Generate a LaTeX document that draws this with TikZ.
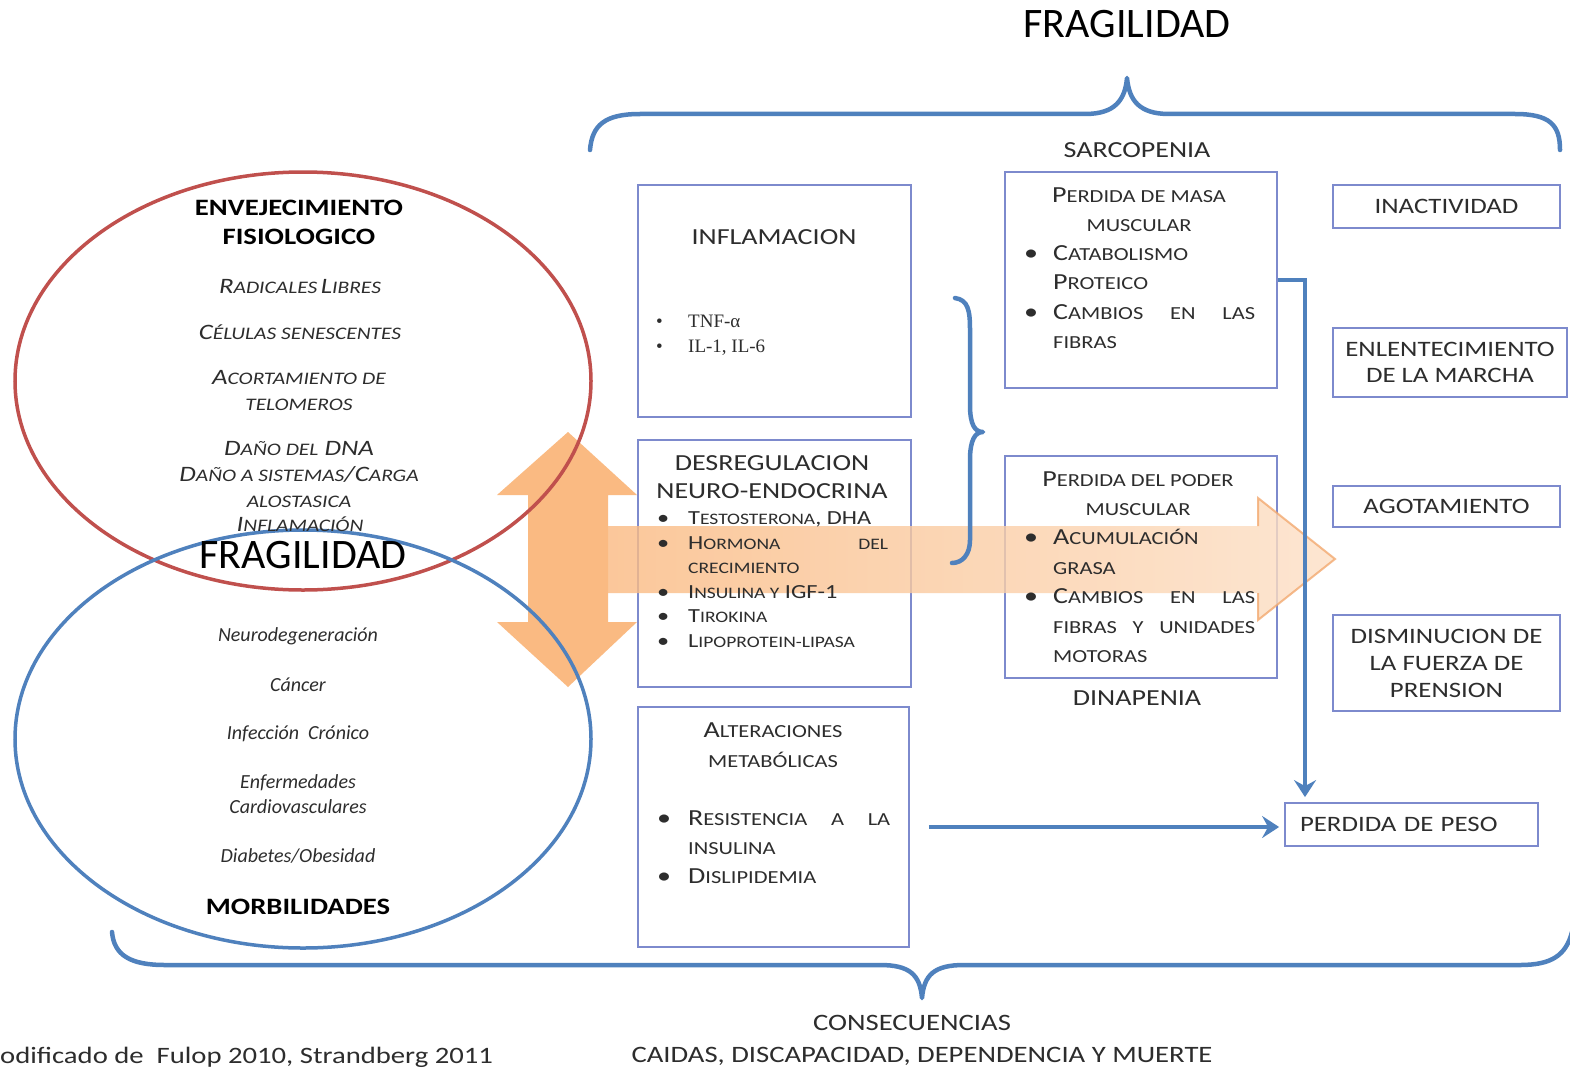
\documentclass[tikz,border=0pt]{standalone}
\usepackage{graphicx}
\usepackage{fontspec}
\setmainfont{Carlito}
\newfontfamily\wf{Carlito}[FakeStretch=1.22]
\newfontfamily\serf{Liberation Serif}
\usetikzlibrary{arrows.meta}
\definecolor{boxblue}{RGB}{125,138,205}
\definecolor{offblue}{RGB}{79,129,189}
\definecolor{offred}{RGB}{192,80,77}
\definecolor{orng}{RGB}{250,186,130}
\definecolor{orngline}{RGB}{242,165,105}
\definecolor{txt}{RGB}{45,45,45}
% fake small caps
\newcommand{\smk}[1]{\scalebox{0.8}{#1}}
\begin{document}
\begin{tikzpicture}[x=1pt,y=-1pt,
  box/.style={draw=boxblue, line width=1.8pt, inner sep=0pt},
  ttl/.style={font=\wf\fontsize{23}{28}\selectfont, text=txt, align=center, inner sep=0pt},
  rtl/.style={font=\wf\fontsize{22}{26}\selectfont, text=txt, align=center, inner sep=0pt},
  lst/.style={font=\wf\fontsize{20}{24.6}\selectfont, text=txt, align=left, anchor=north west, inner sep=0pt},
  etl/.style={font=\wf\bfseries\fontsize{23.5}{29}\selectfont, text=black, align=center, inner sep=0pt},
  eit/.style={font=\wf\itshape\fontsize{22}{26}\selectfont, text=txt, align=center, inner sep=0pt},
  bit/.style={font=\itshape\fontsize{20}{25}\selectfont, text=txt, align=center, inner sep=0pt},
  big/.style={font=\fontsize{42}{48}\selectfont, text=black, inner sep=0pt},
  low/.style={font=\wf\fontsize{23.5}{30}\selectfont, text=txt, inner sep=0pt},
  brace/.style={draw=offblue, line width=4.5pt, line cap=round, line join=round},
  conn/.style={draw=offblue, line width=4.5pt, -{Stealth[length=17pt,width=22pt,inset=6pt]}}]
\useasboundingbox (0,0) rectangle (1570,1070);
\fill[white] (0,0) rectangle (1570,1070);

% double arrow
\fill[orng] (568,432) -- (637,495) -- (608,495) -- (608,622) -- (637,622) -- (568,687)
  -- (497,622) -- (528,622) -- (528,495) -- (497,495) -- cycle;

% ellipses
\draw[offred, line width=3.5pt] (303,381) ellipse [x radius=288pt, y radius=209pt];
\draw[offblue, line width=3.5pt] (303,739) ellipse [x radius=288pt, y radius=209pt];

\node[etl] (envT) at (299,222.5) {ENVEJECIMIENTO\\FISIOLOGICO};
\node[eit] (radic) at (300,286) {R\smk{ADICALES}\,L\smk{IBRES}};
\node[eit] (celul) at (300,332) {C\smk{ÉLULAS SENESCENTES}};
\node[eit] (acort) at (299,390.5) {A\smk{CORTAMIENTO DE}\\\smk{TELOMEROS}};
\node[eit] (dano) at (299,474) {D\smk{AÑO DEL} DNA\\D\smk{AÑO A SISTEMAS}/C\smk{ARGA}\\\smk{ALOSTASICA}};
\node[eit] (infla) at (300,524) {I\smk{NFLAMACIÓN}};
\node[big] (fragE) at (303,555) {FRAGILIDAD};
\node[bit] (neuro) at (298,636) {Neurodegeneración};
\node[bit] (cancer) at (298,685) {Cáncer};
\node[bit] (infec) at (298,734) {Infección\ \ Crónico};
\node[bit] (cardio) at (298,794.5) {Enfermedades\\Cardiovasculares};
\node[bit] (diab) at (298,856) {Diabetes/Obesidad};
\node[etl] (morb) at (298,907) {MORBILIDADES};

% boxes
\node[box, minimum width=273pt, minimum height=232pt] (infl) at (774.5,301) {};
\node[box, minimum width=273pt, minimum height=247pt] (desr) at (774.5,563.5) {};
\node[box, minimum width=271pt, minimum height=240pt] (metab) at (773.5,827) {};
\node[box, minimum width=272pt, minimum height=216pt] (masa) at (1141,280) {};
\node[box, minimum width=272pt, minimum height=222pt] (poder) at (1141,567) {};

% consequences
\node[box, rtl, minimum width=227pt, minimum height=43pt] (inact) at (1446.5,206.5) {INACTIVIDAD};
\node[box, rtl, minimum width=234pt, minimum height=69pt] (enlen) at (1450,362.5) {ENLENTECIMIENTO\\DE LA MARCHA};
\node[box, rtl, minimum width=227pt, minimum height=41pt] (agot) at (1446.5,506.5) {AGOTAMIENTO};
\node[box, rtl, font=\wf\fontsize{22}{27}\selectfont, minimum width=227pt, minimum height=96pt] (dism) at (1446.5,663) {DISMINUCION DE\\LA FUERZA DE\\PRENSION};
\node[box, rtl, align=left, text width=223pt, inner xsep=15pt, minimum height=43pt] (peso) at (1411.5,824.5) {PERDIDA DE PESO};

% wide arrow
\shade[left color=orng, right color=orng!45, fill opacity=0.8] (608,526) -- (1258,526) -- (1258,498)
  -- (1335,559) -- (1258,620) -- (1258,593) -- (608,593) -- cycle;
\draw[orngline, line width=2pt, opacity=0.75] (1258,526) -- (1258,498) -- (1335,559) -- (1258,620) -- (1258,593);

\node[ttl] (inflT) at (774,237) {INFLAMACION};
\node[lst, font=\serf\fontsize{19}{25}\selectfont] (inflL) at (656,314.5)
  {\makebox[32pt][l]{•}TNF-α\\\makebox[32pt][l]{•}IL-1, IL-6};

\node[ttl] (desrT) at (772,477) {DESREGULACION\\NEURO-ENDOCRINA};
\node[lst] (desrL) at (657,511.5)
  {\makebox[31pt][l]{•}T\smk{ESTOSTERONA}, DHA\\
   \makebox[31pt][l]{•}\makebox[200pt][s]{H\smk{ORMONA} \smk{DEL}}\\
   \hspace*{31pt}\smk{CRECIMIENTO}\\
   \makebox[31pt][l]{•}I\smk{NSULINA Y} IGF-1\\
   \makebox[31pt][l]{•}T\smk{IROKINA}\\
   \makebox[31pt][l]{•}L\smk{IPOPROTEIN-LIPASA}};

\node[ttl, font=\wf\fontsize{23}{30}\selectfont] (metabT) at (773,745) {A\smk{LTERACIONES}\\\smk{METABÓLICAS}};
\node[lst, font=\wf\fontsize{23}{29}\selectfont] (metabL) at (657,811)
  {\makebox[31pt][l]{•}\makebox[202pt][s]{R\smk{ESISTENCIA} \smk{A} \smk{LA}}\\
   \hspace*{31pt}\smk{INSULINA}\\
   \makebox[31pt][l]{•}D\smk{ISLIPIDEMIA}};

\node[ttl, font=\wf\fontsize{23}{29}\selectfont] (masaT) at (1139,209.5) {P\smk{ERDIDA DE MASA}\\\smk{MUSCULAR}};
\node[lst, font=\wf\fontsize{23}{29.5}\selectfont] (masaL) at (1024,245)
  {\makebox[29pt][l]{•}C\smk{ATABOLISMO}\\
   \hspace*{29pt}P\smk{ROTEICO}\\
   \makebox[29pt][l]{•}\makebox[202pt][s]{C\smk{AMBIOS} \smk{EN} \smk{LAS}}\\
   \hspace*{29pt}\smk{FIBRAS}};

\node[ttl, font=\wf\fontsize{23}{29}\selectfont] (poderT) at (1138,493.5) {P\smk{ERDIDA DEL PODER}\\\smk{MUSCULAR}};
\node[lst, font=\wf\fontsize{23}{29.5}\selectfont] (poderL) at (1024,529)
  {\makebox[29pt][l]{•}A\smk{CUMULACIÓN}\\
   \hspace*{29pt}\smk{GRASA}\\
   \makebox[29pt][l]{•}\makebox[202pt][s]{C\smk{AMBIOS} \smk{EN} \smk{LAS}}\\
   \hspace*{29pt}\makebox[202pt][s]{\smk{FIBRAS} \smk{Y} \smk{UNIDADES}}\\
   \hspace*{29pt}\smk{MOTORAS}};

\node[ttl] (sarc) at (1137,150) {SARCOPENIA};
\node[ttl] (dinap) at (1137,698) {DINAPENIA};

% connectors
\coordinate (bend) at (1305,280);
\draw[conn, shorten >=5pt] (masa.east) -- (bend) -- (bend |- peso.north);
\draw[conn, shorten <=19pt, shorten >=5pt] (metab.east) -- (metab.east -| peso.west);

% braces
\draw[brace] (590,150) .. controls (592,125) and (605,114) .. (640,114) -- (1085,114)
  .. controls (1115,114) and (1125,100) .. (1127,78)
  .. controls (1129,100) and (1139,114) .. (1169,114) -- (1515,114)
  .. controls (1550,114) and (1560,125) .. (1560,150);
\draw[brace] (955,298) .. controls (968,300) and (970,310) .. (970,330) -- (970,405)
  .. controls (970,425) and (975,432) .. (983,432)
  .. controls (975,432) and (970,440) .. (970,460) -- (970,540)
  .. controls (970,555) and (962,563) .. (952,563);
\draw[brace] (112,932) .. controls (114,955) and (130,965) .. (165,965) -- (880,965)
  .. controls (910,965) and (920,975) .. (922,998)
  .. controls (924,975) and (934,965) .. (964,965) -- (1520,965)
  .. controls (1552,965) and (1566,955) .. (1572,932);

% titles
\node[big] (fragT) at (1127,24) {FRAGILIDAD};
\node[low] (consec) at (912,1023) {CONSECUENCIAS};
\node[low] (caidas) at (922,1056) {CAIDAS, DISCAPACIDAD, DEPENDENCIA Y MUERTE};
\node[low, anchor=west] (fuente) at (0,1057) {odificado de\ \ Fulop 2010, Strandberg 2011};
\end{tikzpicture}
\end{document}
